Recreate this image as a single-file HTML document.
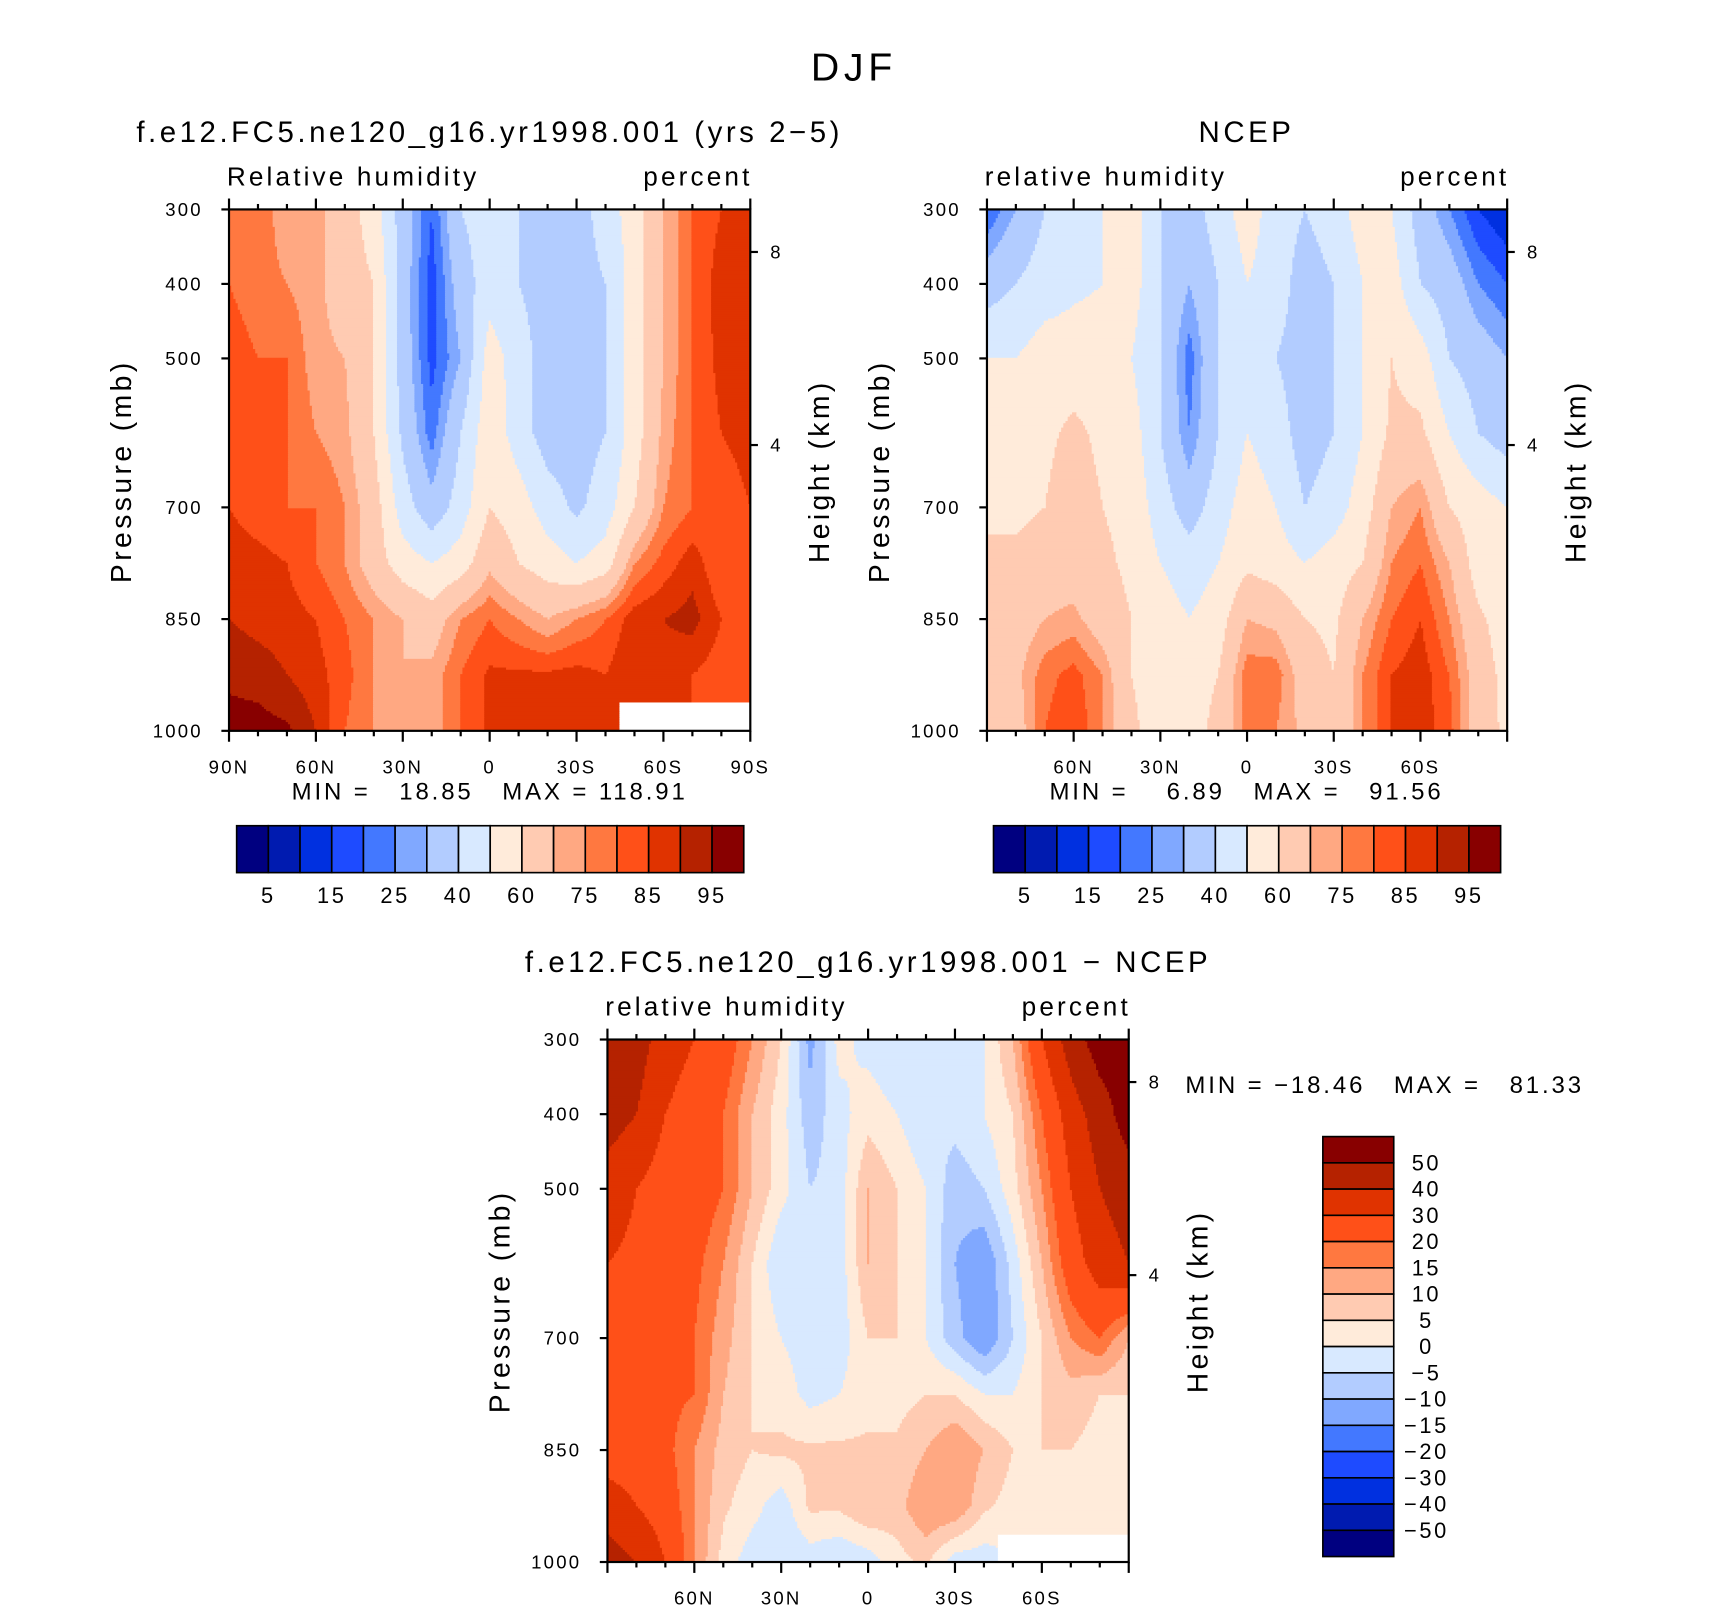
<!DOCTYPE html>
<html><head><meta charset="utf-8">
<style>
html,body{margin:0;padding:0;background:#fff;}
svg{display:block;font-family:"Liberation Sans",sans-serif;}
text{fill:#000;letter-spacing:0.12em;white-space:pre;}
</style></head>
<body>
<svg id="fig" width="1710" height="1610" viewBox="0 0 1568 1476" preserveAspectRatio="none" xmlns="http://www.w3.org/2000/svg">
<text x="783" y="74" font-size="36" text-anchor="middle">DJF</text>
<g id="p1"></g>
<g id="p2"></g>
<g id="p3"></g>
</svg>
<script>
const lats=[90,80,70,60,50,40,30,20,10,0,-10,-20,-30,-40,-50,-60,-70,-80,-90];
const plevs=[300,400,500,600,700,775,850,925,1000];
const rhLevels=[5,10,15,20,25,30,40,50,60,70,75,80,85,90,95];
const rhLabels=["5","15","25","40","60","75","85","95"];
const diffLevels=[-50,-40,-30,-20,-15,-10,-5,0,5,10,15,20,30,40,50];
const diffLabels=["50","40","30","20","15","10","5","0","\u22125","\u221210","\u221215","\u221220","\u221230","\u221240","\u221250"];
const colors=["#000080","#001BB0","#0030E0","#1E4BFF","#4378FF","#80A8FF","#B2CCFF","#D8E9FF","#FFEBDA","#FFCBB2","#FFA882","#FF7840","#FF5018","#E03300","#B52200","#880000"];
const presTicks=[300,400,500,700,850,1000];
const latTicks=[90,60,30,0,-30,-60,-90];
const rhModel=[
[80,80,70,72,65,55,35,20,40,45,40,35,35,45,55,70,80,85,88],
[80,78,75,72,65,60,35,17,35,45,40,35,35,40,55,70,80,88,88],
[82,80,80,72,70,60,35,18,30,55,45,35,35,40,55,70,80,87,88],
[82,82,80,75,72,60,38,22,40,57,45,35,35,40,55,72,80,85,87],
[85,82,80,80,75,65,45,33,45,60,55,45,38,45,60,75,80,82,85],
[88,87,85,80,75,65,55,50,55,68,60,55,50,55,75,82,88,80,80],
[90,88,87,85,80,75,70,65,75,80,75,70,75,80,88,90,92,85,80],
[94,93,90,87,82,75,70,72,80,86,86,86,87,85,90,88,85,82,80],
[97,97,96,90,80,75,70,72,80,86,86,86,86,85,null,null,null,null,null]];
const rhNcep=[
[20,30,40,45,50,55,40,35,45,55,45,40,45,55,50,35,25,15,10],
[35,40,45,48,50,55,40,30,40,50,45,35,40,50,55,40,35,25,20],
[50,50,55,55,55,50,40,22,40,45,40,35,40,50,60,55,40,35,30],
[55,55,58,62,58,55,40,25,40,50,45,35,40,50,62,62,50,40,35],
[58,58,60,65,60,57,45,35,45,55,50,40,45,55,70,75,60,55,50],
[62,62,65,65,62,58,50,45,50,58,55,50,55,60,75,80,70,55,50],
[65,65,70,72,65,60,55,50,55,70,68,60,58,70,80,85,75,62,55],
[62,68,78,82,75,60,55,57,60,78,78,65,60,75,85,88,80,65,57],
[60,65,80,85,75,62,55,57,62,78,75,68,60,75,85,88,82,65,58]];
const rhDiff=[
[50,45,35,30,25,15,5,-12,2,-2,-5,-5,-2,0,10,30,45,55,55],
[45,40,30,25,20,10,2,-8,-2,3,0,-5,-3,0,5,20,35,45,55],
[35,30,25,25,20,10,2,-5,-3,10,5,0,-8,-5,3,15,30,40,45],
[30,28,25,22,15,5,-5,-3,-3,10,5,0,-10,-15,-3,10,25,35,40],
[28,25,22,20,12,5,0,-3,-3,5,5,0,-8,-15,-5,5,15,20,10],
[25,25,22,20,10,5,3,-2,0,3,3,5,5,0,0,5,8,5,5],
[25,25,22,15,8,5,6,6,6,6,6,10,15,10,5,5,5,3,3],
[35,30,25,15,6,2,-3,6,6,10,8,15,15,6,3,3,3,2,2],
[45,40,30,15,3,-3,-5,-3,-5,-3,3,6,-3,-3,null,null,null,null,null]];

const NS="http://www.w3.org/2000/svg";
function mk(parent,tag,attrs,txt){const e=document.createElementNS(NS,tag);for(const k in attrs)e.setAttribute(k,attrs[k]);if(txt!==undefined)e.textContent=txt;parent.appendChild(e);return e;}

function sample(data,lat,p){
  let fi=(lats[0]-lat)/10; fi=Math.max(0,Math.min(lats.length-1.0001,fi));
  const i=Math.floor(fi), tx=fi-i;
  let k=0; while(k<plevs.length-2 && p>plevs[k+1]) k++;
  let ty=(p-plevs[k])/(plevs[k+1]-plevs[k]); ty=Math.max(0,Math.min(1,ty));
  const c=[data[k][i],data[k][i+1],data[k+1][i],data[k+1][i+1]];
  const w=[(1-tx)*(1-ty),tx*(1-ty),(1-tx)*ty,tx*ty];
  if(c.some(v=>v===null)){
    const ni=Math.round(fi), nk=ty<0.5?k:k+1;
    if(data[nk][ni]===null) return null;
    let s=0,ws=0; for(let j=0;j<4;j++) if(c[j]!==null){s+=c[j]*w[j];ws+=w[j];}
    return s/ws;
  }
  let s=0; for(let j=0;j<4;j++) s+=c[j]*w[j]; return s;
}
function colorIdx(v,levels){let n=0;for(const b of levels) if(v+1e-6>=b) n++;return n;}

function drawField(g,x0,y0,w,h,data,levels,name){
  const fg=mk(g,"g",{});
  
  
  const st=2;
  for(let y=0;y<h;y+=st){
    const p=300+(y+st/2)/h*700;
    let runStart=0, runC=undefined;
    const n=Math.ceil(w/st);
    for(let j=0;j<=n;j++){
      const x=Math.min(j*st,w);
      let c='end';
      if(j<n){const lat=90-(x+st/2)/w*180;const v=sample(data,lat,p);c=v===null?'#ffffff':colors[colorIdx(v,levels)];}
      if(c!==runC){
        if(runC!==undefined){
          const r=mk(fg,"rect",{x:x0+runStart,y:y0+y,width:x-runStart+0.6,height:Math.min(st+0.6,h-y),fill:runC});
          
          
        }
        runStart=x; runC=c;
      }
    }
  }
}

function panel(g,o){
  const {x0,y0,w,h}=o;
  const py=p=>y0+(p-300)/700*h;
  const lx=l=>x0+(90-l)/180*w;
  drawField(g,x0,y0,w,h,o.data,o.levels,o.fieldName);
  mk(g,"rect",{x:x0,y:y0,width:w,height:h,fill:"none",stroke:"#000","stroke-width":2,});
  mk(g,"text",{x:o.titleX,y:y0-62,"font-size":27,"text-anchor":"middle",},o.title);
  mk(g,"text",{x:x0-2,y:y0-22,"font-size":24,},o.sub);
  mk(g,"text",{x:x0+w+2,y:y0-22,"font-size":24,"text-anchor":"end",},"percent");
  for(const p of presTicks){
    mk(g,"line",{x1:x0-7,x2:x0,y1:py(p),y2:py(p),stroke:"#000","stroke-width":2});
    mk(g,"text",{x:x0-24,y:py(p)+6,"font-size":17,"text-anchor":"end",},String(p));
  }
  for(let l=90;l>=-90;l-=10){
    const maj=l%30===0, len=maj?10:5;
    mk(g,"line",{x1:lx(l),x2:lx(l),y1:y0-len,y2:y0,stroke:"#000","stroke-width":2});
    mk(g,"line",{x1:lx(l),x2:lx(l),y1:y0+h,y2:y0+h+len,stroke:"#000","stroke-width":2});
  }
  for(const l of latTicks){
    if(!o.edgeLabels && Math.abs(l)===90) continue;
    const t=l===0?"0":(Math.abs(l)+(l>0?"N":"S"));
    mk(g,"text",{x:lx(l),y:y0+h+39,"font-size":17,"text-anchor":"middle",},t);
  }
  [[8,39],[4,216]].forEach(([km,dy])=>{
    mk(g,"line",{x1:x0+w,x2:x0+w+7,y1:y0+dy,y2:y0+dy,stroke:"#000","stroke-width":2});
    mk(g,"text",{x:x0+w+24,y:y0+dy+6,"font-size":17,"text-anchor":"middle",},String(km));
  });
  mk(g,"text",{x:0,y:0,"font-size":26,"text-anchor":"middle",transform:`translate(${x0-90},${y0+240}) rotate(-90)`,},"Pressure (mb)");
  mk(g,"text",{x:0,y:0,"font-size":26,"text-anchor":"middle",transform:`translate(${x0+w+72},${y0+240}) rotate(-90)`,},"Height (km)");
}

function hbar(g,x0,y0,labels){
  const bw=465/16;
  colors.forEach((c,i)=>{
    const r=mk(g,"rect",{x:x0+i*bw,y:y0,width:bw,height:43,fill:c,stroke:"#000","stroke-width":1.5});
    
    
  });
  labels.forEach((t,j)=>{
    mk(g,"text",{x:x0+(2*j+1)*bw,y:y0+71,"font-size":20,"text-anchor":"middle",},t);
  });
}

const g1=document.getElementById('p1'),g2=document.getElementById('p2'),g3=document.getElementById('p3');
panel(g1,{x0:210,y0:192,w:478,h:478,data:rhModel,levels:rhLevels,fieldName:'model-rh-field',title:"f.e12.FC5.ne120_g16.yr1998.001 (yrs 2\u22125)",titleX:449,sub:"Relative humidity",edgeLabels:true});
mk(g1,"text",{x:449,y:733,"font-size":22,"text-anchor":"middle",},"MIN =   18.85   MAX = 118.91");
hbar(g1,217,757,rhLabels);

panel(g2,{x0:905,y0:192,w:477,h:478,data:rhNcep,levels:rhLevels,fieldName:'ncep-rh-field',title:"NCEP",titleX:1143,sub:"relative humidity",edgeLabels:false});
mk(g2,"text",{x:1143,y:733,"font-size":22,"text-anchor":"middle",},"MIN =    6.89   MAX =   91.56");
hbar(g2,911,757,rhLabels);

panel(g3,{x0:557,y0:953,w:478,h:479,data:rhDiff,levels:diffLevels,fieldName:'difference-field',title:"f.e12.FC5.ne120_g16.yr1998.001 \u2212 NCEP",titleX:796,sub:"relative humidity",edgeLabels:false});
mk(g3,"text",{x:1087,y:1002,"font-size":22,},"MIN = \u221218.46   MAX =   81.33");
(function(){
  const x0=1213,y0=1042,bh=385/16;
  for(let i=0;i<16;i++){
    const r=mk(g3,"rect",{x:x0,y:y0+i*bh,width:65,height:bh,fill:colors[15-i],stroke:"#000","stroke-width":1.5});
    
    
  }
  diffLabels.forEach((t,j)=>{
    mk(g3,"text",{x:1308,y:y0+(j+1)*bh+7,"font-size":20,"text-anchor":"middle",},t);
  });
})();
</script>
</body></html>
